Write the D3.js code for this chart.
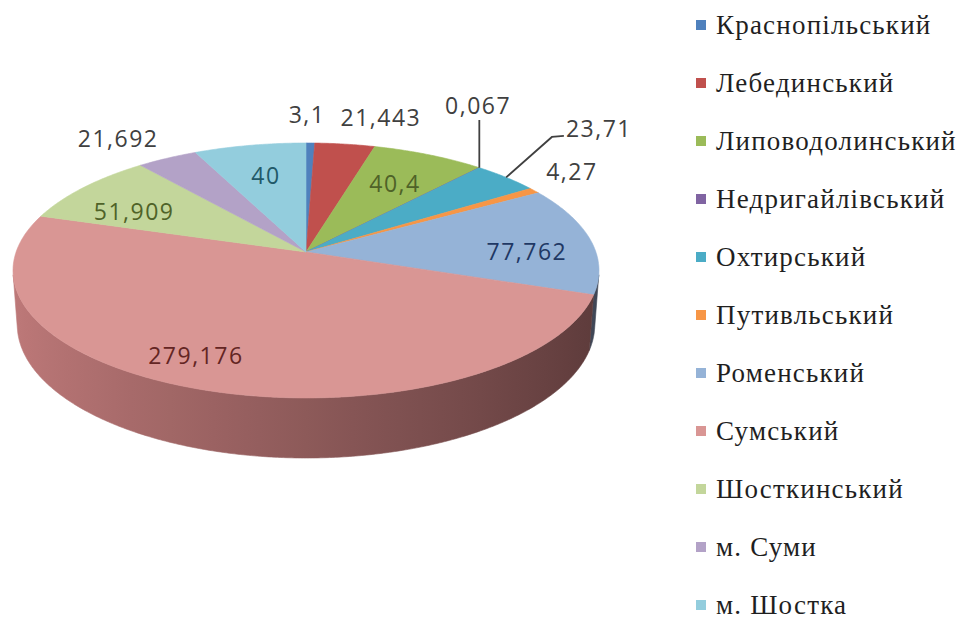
<!DOCTYPE html>
<html>
<head>
<meta charset="utf-8">
<script src="https://cdn.jsdelivr.net/npm/d3@7"></script>
<style>
  body { margin: 0; background: #fff; }
  svg { display: block; }
  .legend text { font-family: "Liberation Serif", "Times New Roman", "DejaVu Serif", serif; }
  .values text { font-family: "Open Sans", sans-serif; }
</style>
</head>
<body>
<svg id="chart" width="975" height="619"></svg>
<script>
// Districts of Sumy oblast and their values
const districts = [
  "Краснопільський", "Лебединський", "Липоводолинський", "Недригайлівський",
  "Охтирський", "Путивльський", "Роменський", "Сумський",
  "Шосткинський", "м. Суми", "м. Шостка"
];
const values = [3.1, 21.443, 40.4, 0.067, 23.71, 4.27, 77.762, 279.176, 51.909, 21.692, 40];

// Slice fills, legend swatches and label colours
const palette = [
  "#4F81BD", "#C0504D", "#9BBB59", "#8064A2", "#4BACC6", "#F79646",
  "#95B3D7", "#D99694", "#C3D69B", "#B3A2C7", "#93CDDD"
];
const labelInk = [
  "#404040", "#404040", "#4F6228", "#404040", "#404040", "#404040",
  "#1F3864", "#632523", "#4F6228", "#404040", "#215968"
];

// Label placement: radius as a share of the pie radius, angular nudge in degrees
const labelPlacement = [
  { r: 1.305, nudge: -0.8 },
  { r: 1.307, nudge: 4.7 },
  { r: 0.679, nudge: 0.8 },
  { r: 1.58,  nudge: -14.6, leader: "vertical" },
  { r: 1.647, nudge: -3.4,  leader: "elbow" },
  { r: 1.234, nudge: -3 },
  { r: 0.762, nudge: 5.8 },
  { r: 0.817, nudge: 6.25 },
  { r: 0.707, nudge: -5.6 },
  { r: 1.282, nudge: -3.1 },
  { r: 0.685, nudge: 0 }
];

const svg = d3.select("#chart");
const deg = Math.PI / 180;

// Perspective camera for the tilted pie (unit radius, thickness in radius units)
const cam = { cx: 306, cy: 252, F: 1806, D: 6.23, sin: 0.4305, cos: 0.9026 };
const thickness = 0.2076;

function project(r, a, depth) {
  const x = r * Math.sin(a), z = -r * Math.cos(a), y = -depth;
  const dd = cam.D - cam.sin * y - cam.cos * z;
  return [cam.cx + x * cam.F / dd, cam.cy + (cam.sin * z - cam.cos * y) * cam.F / dd];
}

function arcPoints(a0, a1, depth) {
  const n = Math.max(2, Math.ceil((a1 - a0) / (0.5 * deg)));
  return d3.range(n + 1).map(i => project(1, a0 + (a1 - a0) * i / n, depth));
}

const pie = d3.pie().sort(null).value(d => d).startAngle(0).endAngle(2 * Math.PI);
const arcs = pie(values);

// Front part of the rim that faces the camera
const rimLimit = Math.acos(-1 / (cam.D * cam.cos));
const rimFrom = rimLimit, rimTo = 2 * Math.PI - rimLimit;
const shade = a => 0.65 - 0.23 * Math.sin(a);

const defs = svg.append("defs");
const xLeft = project(1, rimTo, 0)[0], xRight = project(1, rimFrom, 0)[0];

const rim = svg.append("g");
arcs.forEach((d, i) => {
  const a0 = Math.max(d.startAngle, rimFrom), a1 = Math.min(d.endAngle, rimTo);
  if (a1 <= a0) return;
  const base = d3.rgb(palette[i]);
  const grad = defs.append("linearGradient")
    .attr("id", "rim" + i).attr("gradientUnits", "userSpaceOnUse")
    .attr("x1", xLeft).attr("x2", xRight).attr("y1", 0).attr("y2", 0);
  d3.range(0, 21).forEach(k => {
    const a = rimTo - (rimTo - rimFrom) * k / 20;
    const f = shade(a);
    const px = project(1, a, 0)[0];
    grad.append("stop")
      .attr("offset", (px - xLeft) / (xRight - xLeft))
      .attr("stop-color", d3.rgb(base.r * f, base.g * f * 0.92, base.b * f * 0.93));
  });
  const top = arcPoints(a0, a1, 0);
  const bottom = arcPoints(a0, a1, thickness).reverse();
  rim.append("path")
    .attr("d", "M" + top.concat(bottom).map(p => p.join(",")).join("L") + "Z")
    .attr("fill", `url(#rim${i})`)
    .attr("stroke", `url(#rim${i})`).attr("stroke-width", 0.6);
});

// Top faces of the slices
const apex = project(0, 0, 0);
svg.append("g").selectAll("path").data(arcs).join("path")
  .attr("d", d => "M" + [apex].concat(arcPoints(d.startAngle, d.endAngle, 0))
    .map(p => p.join(",")).join("L") + "Z")
  .attr("fill", (d, i) => palette[i])
  .attr("stroke", (d, i) => palette[i])
  .attr("stroke-width", 0.6)
  .attr("stroke-linejoin", "round");

// Value labels
const fmt = v => String(v).replace(".", ",");
const labels = svg.append("g").attr("class", "values")
  .attr("font-size", 23)
  .attr("letter-spacing", 1.5);

arcs.forEach((d, i) => {
  const mid = (d.startAngle + d.endAngle) / 2;
  const place = labelPlacement[i];
  const [lx, ly] = project(place.r, mid + place.nudge * deg, 0);
  const t = labels.append("text")
    .attr("x", lx).attr("y", ly).attr("dy", "0.35em")
    .attr("text-anchor", "middle")
    .attr("fill", labelInk[i])
    .text(fmt(d.data));
  if (place.leader) {
    const edge = project(1, mid, 0);
    const w = t.node().getComputedTextLength();
    let pts;
    if (place.leader === "vertical") {
      pts = [edge, [edge[0], ly + 14]];
    } else {
      const left = lx - w / 2;
      pts = [edge, [left - 14, ly + 8], [left - 2, ly + 7]];
    }
    svg.append("path")
      .attr("d", "M" + pts.map(p => p.join(",")).join("L"))
      .attr("fill", "none").attr("stroke", "#404040").attr("stroke-width", 1.8);
  }
});

// Legend
const legendY = d3.scalePoint().domain(districts).range([25, 605]);
const legend = svg.append("g").attr("class", "legend")
  .attr("font-size", 27)
  .attr("letter-spacing", 1.2)
  .attr("fill", "#1f1f1f");
districts.forEach((name, i) => {
  const y = legendY(name);
  legend.append("rect").attr("x", 696).attr("y", y - 5).attr("width", 10).attr("height", 10)
    .attr("fill", palette[i]);
  legend.append("text").attr("x", 716).attr("y", y).attr("dy", "0.33em").text(name);
});
</script>
</body>
</html>
